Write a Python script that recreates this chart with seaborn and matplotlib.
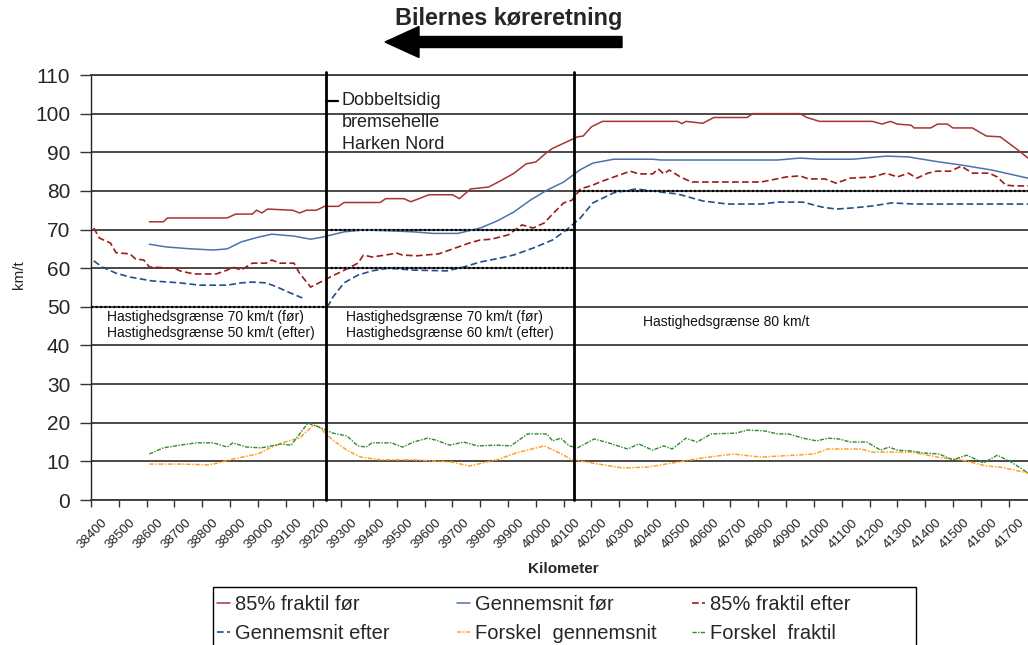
import numpy as np
import pandas as pd
import matplotlib
matplotlib.use("Agg")
import matplotlib.pyplot as plt
from matplotlib.patches import FancyArrow, Rectangle
from matplotlib.transforms import ScaledTranslation
import seaborn as sns

# ---------------- data ----------------
km_85_foer = [38560, 38610, 38625, 38720, 38840, 38870, 38930, 38945, 38965, 38985, 39075, 39100, 39125,
              39160, 39190, 39240, 39260, 39390, 39410, 39475, 39500, 39530, 39565, 39650, 39675, 39715,
              39780, 39820, 39870, 39915, 39950, 39990, 40010, 40070, 40100, 40120, 40150, 40190, 40460,
              40475, 40490, 40550, 40590, 40710, 40730, 40900, 40925, 40970, 41160, 41195, 41225, 41250,
              41300, 41310, 41370, 41395, 41430, 41450, 41520, 41570, 41620, 41650, 41680, 41720]
v_85_foer = [72, 72, 73, 73, 73, 74, 74, 75, 74.3, 75.3, 75, 74.3, 75,
             75, 76, 76, 77, 77, 78, 78, 77.2, 78, 79, 79, 78, 80.5,
             81, 82.5, 84.5, 87, 87.5, 90, 91, 93, 94, 94.2, 96.6, 98, 98,
             97.4, 98, 97.5, 99, 99, 100, 100, 99, 98, 98, 97.3, 98, 97.3,
             97, 96.3, 96.3, 97.3, 97.3, 96.3, 96.3, 94.2, 94, 92.4, 90.8, 88.5]

km_gns_foer = [38560, 38620, 38710, 38790, 38840, 38890, 38950, 39000, 39080, 39140, 39180, 39260, 39330,
               39450, 39510, 39580, 39670, 39750, 39810, 39870, 39930, 39990, 40050, 40110, 40155, 40230,
               40370, 40400, 40580, 40820, 40900, 40970, 41090, 41210, 41290, 41400, 41480, 41590, 41720]
v_gns_foer = [66.2, 65.5, 65, 64.7, 65, 66.8, 68, 68.8, 68.3, 67.5, 68, 69.4, 69.9,
              69.6, 69.4, 69, 69, 70.4, 72.2, 74.5, 77.6, 80.2, 82.3, 85.5, 87.2, 88.2,
              88.2, 88, 88, 88, 88.5, 88.2, 88.2, 89, 88.8, 87.5, 86.7, 85.4, 83.3]

km_85_efter = [38360, 38380, 38420, 38440, 38490, 38510, 38540, 38560, 38650, 38670, 38720, 38800, 38840,
               38860, 38890, 38930, 38980, 39000, 39030, 39080, 39100, 39140, 39170, 39210, 39270, 39310,
               39330, 39360, 39410, 39450, 39470, 39520, 39600, 39640, 39710, 39750, 39790, 39850, 39900,
               39940, 39980, 40010, 40050, 40080, 40110, 40155, 40180, 40250, 40290, 40320, 40370, 40390,
               40410, 40430, 40470, 40510, 40760, 40850, 40900, 40930, 40990, 41030, 41080, 41160, 41210,
               41250, 41290, 41320, 41360, 41390, 41440, 41480, 41520, 41580, 41610, 41640, 41670, 41720]
v_85_efter = [70.4, 67.8, 66.5, 64, 63.7, 62.4, 62.1, 60.3, 60, 59.3, 58.5, 58.5, 59.5,
              60.3, 59.5, 61.3, 61.3, 62.1, 61.3, 61.3, 58.7, 55.1, 56.2, 57.7, 59.8, 61.3,
              63.4, 62.9, 63.4, 63.9, 63.4, 63.2, 63.7, 64.7, 66.5, 67.3, 67.5, 68.6, 71.2,
              70.4, 71.7, 74, 76.9, 77.6, 80.5, 81.5, 82.3, 84.1, 85.1, 84.4, 84.4, 85.7,
              84.4, 85.4, 83.6, 82.3, 82.3, 83.6, 83.9, 83.1, 83.1, 82, 83.3, 83.6, 84.6,
              83.6, 84.6, 83.3, 84.6, 85.1, 85.1, 86.4, 84.6, 84.6, 83.6, 81.5, 81.3, 81.3]

# Gennemsnit efter has a gap around the brake hump (segment 1 / segment 2)
km_gns_efter = [38360, 38390, 38440, 38490, 38570, 38670, 38740, 38840, 38890, 38930, 38980, 39020, 39060,
                39110,
                39200, 39220, 39260, 39310, 39360, 39420, 39510, 39630, 39690, 39750, 39820, 39870, 39940,
                40010, 40060, 40110, 40155, 40230, 40310, 40400, 40460, 40550, 40640, 40760, 40820, 40910,
                40980, 41030, 41090, 41160, 41230, 41310, 41720]
v_gns_efter = [61.9, 60.3, 58.7, 57.7, 56.7, 56.2, 55.6, 55.6, 56.2, 56.4, 56.2, 55.1, 53.8,
               52.3,
               49.9, 52.5, 56.2, 58.2, 59.3, 60, 59.5, 59.3, 60.3, 61.6, 62.6, 63.4, 65.2,
               67.3, 69.9, 73, 76.9, 79.5, 80.5, 79.7, 79.2, 77.4, 76.6, 76.6, 77.1, 77.1,
               75.8, 75.3, 75.6, 76.1, 76.9, 76.6, 76.6]
seg_gns_efter = [1] * 14 + [2] * 33

km_forskel_gns = [38560, 38670, 38770, 38810, 38860, 38950, 39000, 39060, 39100, 39150, 39170, 39220, 39270,
                  39320, 39390, 39510, 39650, 39710, 39810, 39880, 39980, 40040, 40080, 40150, 40260, 40350,
                  40460, 40550, 40660, 40760, 40880, 40950, 41000, 41120, 41160, 41300, 41410, 41480, 41570,
                  41620, 41720]
v_forskel_gns = [9.3, 9.3, 9.1, 9.6, 10.6, 11.9, 13.7, 15.3, 16, 19.4, 18.9, 15.5, 12.9,
                 11.1, 10.4, 10.4, 9.8, 8.8, 10.4, 12.2, 14, 12, 10.4, 9.6, 8.3, 8.5,
                 9.8, 10.9, 11.9, 11.1, 11.6, 11.9, 13.2, 13.2, 12.4, 12.4, 10.9, 10.4, 8.8,
                 8.5, 7]

km_forskel_frk = [38560, 38610, 38670, 38730, 38790, 38840, 38860, 38910, 38960, 38980, 39030, 39070, 39130,
                  39170, 39220, 39270, 39310, 39340, 39360, 39430, 39470, 39510, 39560, 39590, 39640, 39690,
                  39740, 39810, 39860, 39920, 39990, 40010, 40040, 40070, 40100, 40160, 40210, 40280, 40320,
                  40370, 40410, 40440, 40490, 40530, 40580, 40670, 40710, 40770, 40820, 40860, 40910, 40960,
                  41000, 41040, 41080, 41140, 41190, 41220, 41250, 41300, 41340, 41400, 41450, 41500, 41560,
                  41610, 41660, 41720]
v_forskel_frk = [11.9, 13.5, 14.2, 14.8, 14.8, 13.7, 14.8, 13.7, 13.5, 13.7, 14.5, 14.2, 19.9,
                 18.9, 17.3, 16.6, 14, 13.7, 14.8, 14.8, 13.7, 15, 16, 15.5, 14.2, 15,
                 14, 14.2, 14, 17.1, 17.1, 15.3, 16, 14, 13.5, 15.8, 14.8, 13.2, 14.5,
                 12.9, 14, 13.2, 16, 15, 17.1, 17.3, 18.1, 17.9, 17.1, 17.1, 16, 15.3,
                 16, 15.8, 15, 15, 12.9, 13.7, 12.9, 12.7, 12.2, 11.9, 10.4, 11.6, 9.6,
                 11.6, 9.8, 7]

series_labels = ["85% fraktil før", "Gennemsnit før", "85% fraktil efter",
                 "Gennemsnit efter", "Forskel  gennemsnit", "Forskel  fraktil"]
x_tick_labels = [str(k) for k in range(38400, 41701, 100)]
y_ticks = list(range(0, 111, 10))

BRAKE_KM = 39195          # dobbeltsidig bremsehelle
LIMIT_CHANGE_KM = 40087   # change of speed limit zone
X_MIN, X_MAX = 38350, 41720
speed_limit_lines = [(X_MIN, BRAKE_KM, 50), (BRAKE_KM, LIMIT_CHANGE_KM, 60),
                     (BRAKE_KM, LIMIT_CHANGE_KM, 70), (LIMIT_CHANGE_KM, X_MAX, 80)]

# ---------------- style ----------------
sns.set_style("white")
plt.rcParams["font.family"] = ["Liberation Sans", "DejaVu Sans"]

W, H = 1028, 645
fig = plt.figure(figsize=(W / 100, H / 100), dpi=100)
ax = fig.add_axes([91 / W, 1 - 500 / H, 1 - 91 / W, 425 / H])

c_85f, c_gf, c_85e, c_ge, c_fg, c_ff = "#A83434", "#4B73AA", "#9E1B1B", "#234E8C", "#FFA21F", "#2E8B2E"

df1 = pd.DataFrame({"km": km_85_foer, "v": v_85_foer})
df2 = pd.DataFrame({"km": km_gns_foer, "v": v_gns_foer})
df3 = pd.DataFrame({"km": km_85_efter, "v": v_85_efter})
df4 = pd.DataFrame({"km": km_gns_efter, "v": v_gns_efter, "seg": seg_gns_efter})
df5 = pd.DataFrame({"km": km_forskel_gns, "v": v_forskel_gns})
df6 = pd.DataFrame({"km": km_forskel_frk, "v": v_forskel_frk})

sns.lineplot(data=df1, x="km", y="v", ax=ax, color=c_85f, lw=1.1, label=series_labels[0], sort=False)
sns.lineplot(data=df2, x="km", y="v", ax=ax, color=c_gf, lw=1.1, label=series_labels[1], sort=False)
sns.lineplot(data=df3, x="km", y="v", ax=ax, color=c_85e, lw=1.2, label=series_labels[2], sort=False,
             linestyle=(0, (4, 2)))
for s, part in df4.groupby("seg"):
    sns.lineplot(data=part, x="km", y="v", ax=ax, color=c_ge, lw=1.2, sort=False,
                 linestyle=(0, (4, 2)), label=series_labels[3] if s == 1 else None)
sns.lineplot(data=df5, x="km", y="v", ax=ax, color=c_fg, lw=1.1, label=series_labels[4], sort=False,
             linestyle=(0, (3, 1, 1, 1)))
sns.lineplot(data=df6, x="km", y="v", ax=ax, color=c_ff, lw=1.0, label=series_labels[5], sort=False,
             linestyle=(0, (3, 1, 1, 1)))

# grid & axes
ax.set_xlim(X_MIN, X_MAX)
ax.set_ylim(0, 110)
ax.set_yticks(y_ticks)
ax.set_yticklabels([str(v) for v in y_ticks])
ax.yaxis.grid(True, color="#3a3a3a", lw=1.3)
ax.xaxis.grid(False)
ax.set_axisbelow(True)
ax.spines["right"].set_visible(False)
ax.spines["top"].set_color("#3a3a3a")
ax.spines["top"].set_linewidth(1.3)
ax.spines["left"].set_color("#222222")
ax.spines["left"].set_linewidth(1.0)
ax.spines["bottom"].set_color("#3a3a3a")
ax.spines["bottom"].set_linewidth(1.3)

ax.set_xticks(np.arange(X_MIN, X_MAX + 1, 100))
ax.set_xticklabels([])
ax.set_xticks(np.arange(38400, 41701, 100), minor=True)
ax.set_xticklabels(x_tick_labels, minor=True)
ax.tick_params(axis="x", which="major", direction="out", length=5, width=1, color="#333333", bottom=True)
ax.tick_params(axis="x", which="minor", length=0, pad=12, labelsize=9.5, labelcolor="#222222",
               labelrotation=45, bottom=True)
for lbl in ax.get_xticklabels(minor=True):
    lbl.set_ha("right")
    lbl.set_va("top")
    lbl.set_transform(lbl.get_transform() + ScaledTranslation(5 / 100, 0, fig.dpi_scale_trans))
ax.tick_params(axis="y", direction="out", length=8, width=1, color="#333333", left=True,
               labelsize=15, pad=7)

ax.set_xlabel("Kilometer", fontsize=11, fontweight="bold")
ax.xaxis.set_label_coords((563 - 91) / (W - 91), (500 - 562) / 425)
ax.set_ylabel("km/t", fontsize=11)
ax.yaxis.set_label_coords((26 - 91) / (W - 91), 0.53)

# zone boundaries and speed limits
for xv in [BRAKE_KM, LIMIT_CHANGE_KM]:
    ax.axvline(xv, ymin=0, ymax=1.006, color="black", lw=2.0, clip_on=False, zorder=5)
for x0, x1, lim in speed_limit_lines:
    ax.plot([x0, x1], [lim, lim], color="black", lw=1.6, linestyle=(0, (1, 1)), zorder=4)

# annotations
ax.plot([BRAKE_KM, BRAKE_KM + 45], [103.3, 103.3], color="black", lw=1.6, zorder=5)
ax.text(39252, 103.3, "Dobbeltsidig\nbremsehelle\nHarken Nord", fontsize=13, va="top", linespacing=1.38,
        ha="left", color="#222222", transform=ax.transData + ScaledTranslation(0, 0.09, fig.dpi_scale_trans))
ax.text(38407, 45.2, "Hastighedsgrænse 70 km/t (før)\nHastighedsgrænse 50 km/t (efter)", fontsize=10,
        va="center", ha="left", color="#111111")
ax.text(39267, 45.2, "Hastighedsgrænse 70 km/t (før)\nHastighedsgrænse 60 km/t (efter)", fontsize=10,
        va="center", ha="left", color="#111111")
ax.text(40335, 46.1, "Hastighedsgrænse 80 km/t", fontsize=10, va="center", ha="left", color="#111111")

# direction arrow + title
fig.text(622 / W, 1 - 18 / H, "Bilernes køreretning", fontsize=16.8, fontweight="bold", ha="right", va="center")
arrow = FancyArrow(6.22, (H - 42) / 100, -2.37, 0, width=0.11, head_width=0.31, head_length=0.34,
                   length_includes_head=True, color="black", transform=fig.dpi_scale_trans)
fig.patches.append(arrow)

# legend: three columns of equal width inside one frame
handles, labels = ax.get_legend_handles_labels()
ax.get_legend().remove()
col_x = [213, 453, 688]
for c, xpx in enumerate(col_x):
    fig.legend([handles[c], handles[c + 3]], [labels[c], labels[c + 3]], ncol=1,
               loc="upper left", bbox_to_anchor=(xpx / W, 1 - 591 / H), frameon=False,
               fontsize=14.5, handlelength=0.65, handletextpad=0.25,
               borderpad=0.2, labelspacing=0.48, borderaxespad=0)
fig.patches.append(Rectangle((2.13, -0.3), 7.03, 0.88, fill=False, edgecolor="black", lw=1.0,
                             transform=fig.dpi_scale_trans))

fig.savefig("out.png", dpi=100)
